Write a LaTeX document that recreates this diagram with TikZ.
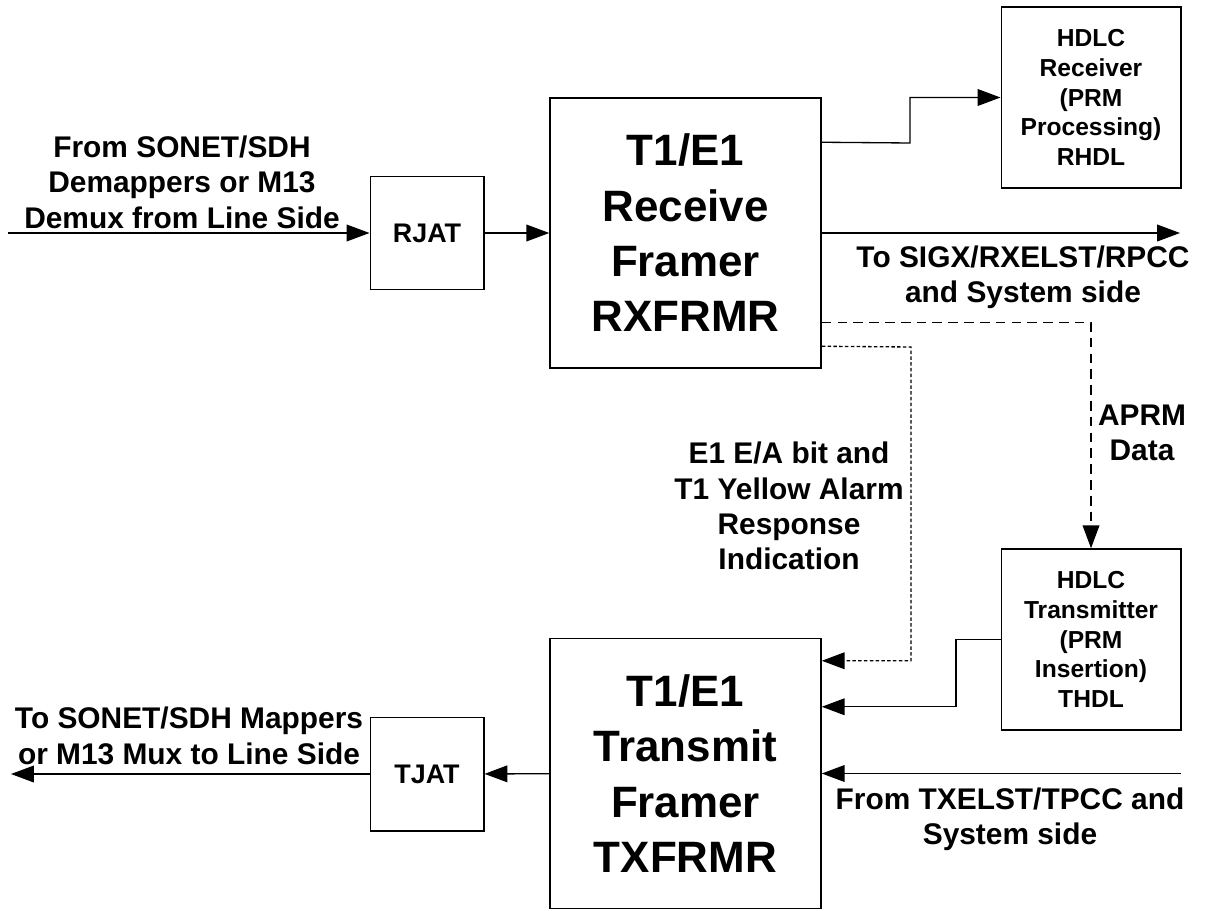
\documentclass[tikz,border=0pt]{standalone}
\usepackage{fontspec}
\setmainfont{Liberation Sans}
\usetikzlibrary{arrows.meta}

\begin{document}
\begin{tikzpicture}[
        line width=0.75pt,
        arr/.style={-{Triangle[length=13pt,width=9.5pt]}},
        blk/.style={draw,line width=0.85pt,align=center,inner sep=0pt},
        frmr/.style={blk,minimum width=5.42cm,minimum height=5.4cm,font=\bfseries\fontsize{25}{31.5}\selectfont},
        hdlc/.style={blk,minimum width=3.59cm,minimum height=3.62cm,font=\bfseries\fontsize{14}{17}\selectfont},
        jat/.style={blk,minimum width=2.27cm,minimum height=2.27cm,font=\bfseries\fontsize{15.3}{18}\selectfont},
        lbl/.style={align=center,inner sep=0pt,font=\bfseries\fontsize{17}{20}\selectfont}
    ]
    \useasboundingbox (0,0) rectangle (24.14,18.2);
    %% blocks
    \node[jat] (rjat) at (8.54,13.54) {RJAT};
    \node[jat] (tjat) at (8.54,2.72) {TJAT};
    \node[frmr] (rx) at (13.71,13.54) {T1/E1\\ Receive\\ Framer\\ RXFRMR};
    \node[frmr] (tx) at (13.71,2.73) {T1/E1\\ Transmit\\ Framer\\ TXFRMR};
    \node[hdlc] (rhdl) at (21.82,16.25) {HDLC\\ Receiver\\ (PRM\\ Processing)\\ RHDL};
    \node[hdlc] (thdl) at (21.82,5.41) {HDLC\\ Transmitter\\ (PRM\\ Insertion)\\ THDL};
    %% free ends
    \coordinate (linein) at (0.16,13.54);
    \coordinate (lineout) at (0.22,2.72);
    \coordinate (sysout) at (23.6,13.54);
    \coordinate (sysin) at (23.62,2.73);
    %% labels
    \node[lbl,anchor=south] (inlbl) at (3.64,13.62) {From SONET/SDH\\ Demappers or M13\\ Demux from Line Side};
    \node[lbl,anchor=south] (outlbl) at (3.78,2.9) {To SONET/SDH Mappers\\ or M13 Mux to Line Side};
    \node[lbl,anchor=north] (sigx) at (20.46,13.3) {To SIGX/RXELST/RPCC\\ and System side};
    \node[lbl,anchor=north] (txelst) at (20.2,2.45) {From TXELST/TPCC and\\ System side};
    \node[lbl] (aprm) at (22.84,9.54) {APRM\\ Data};
    \node[lbl] (yel) at (15.78,8.08) {E1 E/A bit and\\ T1 Yellow Alarm\\ Response\\ Indication};
    %% receive side
    \draw[arr] (linein) -- (rjat.west);
    \draw[arr] (rjat) -- (rx);
    \draw[arr] ([yshift=-0.9cm]rx.north east) -- (18.2,15.34) |- (rhdl.west);
    \draw[arr] (rx.east) -- (sysout);
    \draw[arr,dash pattern=on 5.5pt off 3.5pt] ([yshift=-4.5cm]rx.north east) -| (thdl.north);
    \draw[arr,dash pattern=on 2pt off 1.3pt] ([yshift=-4.98cm]rx.north east) -- (18.22,11.26) |- ([yshift=-0.46cm]tx.north east);
    %% transmit side
    \draw[arr] (thdl.west) -- (19.12,5.41) |- ([yshift=-1.38cm]tx.north east);
    \draw[arr] (sysin) -- (tx.east);
    \draw[arr] (tx) -- (tjat);
    \draw[arr] (tjat.west) -- (lineout);
\end{tikzpicture}
\end{document}
